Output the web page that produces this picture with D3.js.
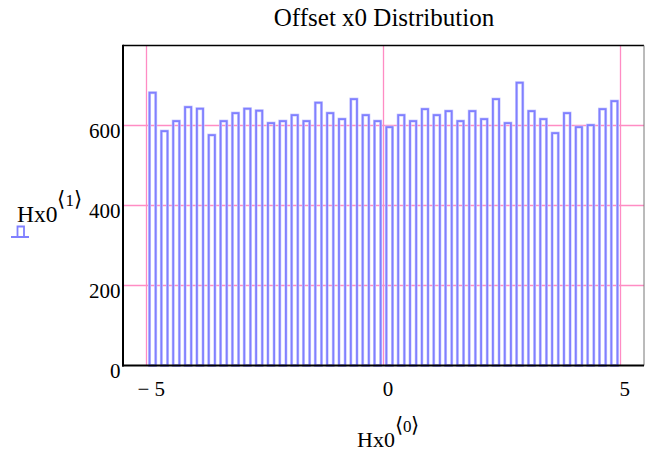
<!DOCTYPE html>
<html>
<head>
<meta charset="utf-8">
<script src="https://cdn.jsdelivr.net/npm/d3@7"></script>
<style>
  html, body { margin: 0; padding: 0; background: #fff; }
  svg { display: block; }
  text { font-family: "Liberation Serif", "Times New Roman", serif; fill: #000; }
</style>
</head>
<body>
<svg id="chart" width="645" height="454"></svg>
<script>
const title = "Offset x0 Distribution";
const binCenters = [-4.875, -4.625, -4.375, -4.125, -3.875, -3.625, -3.375, -3.125, -2.875, -2.625,
                    -2.375, -2.125, -1.875, -1.625, -1.375, -1.125, -0.875, -0.625, -0.375, -0.125,
                     0.125,  0.375,  0.625,  0.875,  1.125,  1.375,  1.625,  1.875,  2.125,  2.375,
                     2.625,  2.875,  3.125,  3.375,  3.625,  3.875,  4.125,  4.375,  4.625,  4.875];
const counts = [682, 586, 611, 646, 642, 576, 611, 631, 642, 637,
                606, 611, 626, 611, 657, 631, 616, 666, 626, 611,
                596, 626, 611, 641, 626, 636, 611, 636, 616, 666,
                606, 707, 636, 616, 581, 631, 596, 601, 641, 661];
const xTicks = [-5, 0, 5];
const xTickLabels = ["\u2212 5", "0", "5"];
const yTicks = [0, 200, 400, 600];
const yTickLabels = ["0", "200", "400", "600"];
const xDomain = [-5.5, 5.5];
const yDomain = [0, 800];
const barWidth = 0.13;

const svg = d3.select("#chart");
const L = 123, R = 644, T = 45.5, B = 365.5;
const x = d3.scaleLinear().domain(xDomain).range([L, R]);
const y = d3.scaleLinear().domain(yDomain).range([B, T]);
const crisp = v => Math.round(v - 0.5) + 0.5;

const grid = "#ff8cc4";
// gridlines
svg.append("g").selectAll("line").data(xTicks).join("line")
  .attr("x1", d => crisp(x(d))).attr("x2", d => crisp(x(d))).attr("y1", T).attr("y2", B)
  .attr("stroke", grid).attr("stroke-width", 1.3);
svg.append("g").selectAll("line").data(yTicks.filter(d => d > 0)).join("line")
  .attr("x1", L).attr("x2", R).attr("y1", d => crisp(y(d))).attr("y2", d => crisp(y(d)))
  .attr("stroke", grid).attr("stroke-width", 1.3);

// bars
const bars = svg.append("g");
bars.selectAll("rect.halo").data(counts).join("rect").attr("class", "halo")
  .attr("x", (d, i) => x(binCenters[i] - barWidth / 2))
  .attr("width", (d, i) => x(binCenters[i] + barWidth / 2) - x(binCenters[i] - barWidth / 2))
  .attr("y", d => y(d)).attr("height", d => y(0) - y(d))
  .attr("fill", "none").attr("stroke", "#ccccff").attr("stroke-width", 3);
bars.selectAll("rect.bar").data(counts).join("rect").attr("class", "bar")
  .attr("x", (d, i) => x(binCenters[i] - barWidth / 2))
  .attr("width", (d, i) => x(binCenters[i] + barWidth / 2) - x(binCenters[i] - barWidth / 2))
  .attr("y", d => y(d)).attr("height", d => y(0) - y(d))
  .attr("fill", "none").attr("stroke", "#8080ff").attr("stroke-width", 1.8);

// frame
svg.append("line").attr("x1", L).attr("x2", R).attr("y1", T).attr("y2", T)
  .attr("stroke", "#000").attr("stroke-width", 1.5);
svg.append("line").attr("x1", R).attr("x2", R).attr("y1", T).attr("y2", B)
  .attr("stroke", "#777").attr("stroke-width", 1);
svg.append("line").attr("x1", L).attr("x2", L).attr("y1", T - 0.75).attr("y2", B + 1)
  .attr("stroke", "#000").attr("stroke-width", 2);
svg.append("line").attr("x1", L - 1).attr("x2", R).attr("y1", B).attr("y2", B)
  .attr("stroke", "#000").attr("stroke-width", 2);

// tick labels
svg.append("g").selectAll("text").data(yTicks).join("text")
  .attr("x", 120.5).attr("y", d => y(d) + 12.5)
  .attr("text-anchor", "end").attr("font-size", 21)
  .text((d, i) => yTickLabels[i]);
svg.append("g").selectAll("text").data(xTicks).join("text")
  .attr("x", d => x(d) + 4.5).attr("y", 395.5)
  .attr("text-anchor", "middle").attr("font-size", 21)
  .text((d, i) => xTickLabels[i]);

// title
svg.append("text").attr("x", 384).attr("y", 26)
  .attr("text-anchor", "middle").attr("font-size", 25).text(title);

// x axis label
const xl = svg.append("text").attr("x", 357).attr("y", 447).attr("font-size", 22);
xl.append("tspan").text("Hx0");
xl.append("tspan").attr("dy", -15).attr("font-size", 21).attr("font-family", "DejaVu Sans").attr("font-weight", 200).text("\u27E8");
xl.append("tspan").attr("font-size", 17).text("0");
xl.append("tspan").attr("font-size", 21).attr("font-family", "DejaVu Sans").attr("font-weight", 200).text("\u27E9");

// y axis label
const yl = svg.append("text").attr("x", 17).attr("y", 222).attr("font-size", 23.5);
yl.append("tspan").text("Hx0");
yl.append("tspan").attr("dy", -16).attr("font-size", 21).attr("font-family", "DejaVu Sans").attr("font-weight", 200).text("\u27E8");
yl.append("tspan").attr("font-size", 17).text("1");
yl.append("tspan").attr("font-size", 21).attr("font-family", "DejaVu Sans").attr("font-weight", 200).text("\u27E9");

// legend glyph
svg.append("path")
  .attr("d", "M11,237 H29 M17.5,237 V226.5 H24 V237")
  .attr("fill", "none").attr("stroke", "#8080ff").attr("stroke-width", 1.8);
</script>
</body>
</html>
